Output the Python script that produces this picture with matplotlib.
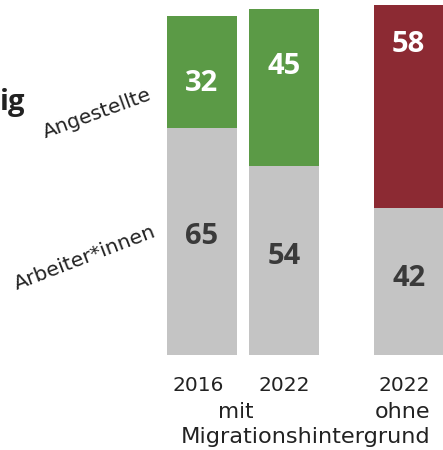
import matplotlib.pyplot as plt
import numpy as np

plt.rcParams['font.family'] = ['Open Sans', 'DejaVu Sans']

# data
years = ["2016", "2022", "2022"]
arbeiter = [65, 54, 42]
angestellte = [32, 45, 58]
top_colors = ["#5b9a46", "#5b9a46", "#8c2a33"]
grey = "#c4c4c4"

# layout (bar centres, label heights)
xpos = np.array([0, 1, 2.52])
w = 0.854
top_lab_y = [77.7, 82.3, 88.6]
bot_lab_frac = 0.52

fig = plt.figure(figsize=(4.43, 4.5), dpi=100)
ax = fig.add_axes([0, 0, 1, 1])
ax.set_xlim(-202 / 82, (443 - 202) / 82)
ax.set_ylim(-95 / 3.5, 355 / 3.5)
ax.axis('off')

def px(x):
    return (x - 202) / 82

def py(y):
    return (355 - y) / 3.5

reg = dict(family='DejaVu Sans', color='#222222')

ax.bar(xpos, arbeiter, width=w, color=grey)
ax.bar(xpos, angestellte, width=w, bottom=arbeiter, color=top_colors)

for i in range(3):
    ax.text(xpos[i], arbeiter[i] * bot_lab_frac, str(arbeiter[i]), ha='center', va='center',
            fontsize=21, fontweight='bold', color='#3a3a3a')
    ax.text(xpos[i], top_lab_y[i], str(angestellte[i]), ha='center', va='center',
            fontsize=21, fontweight='bold', color='white')

ax.text(px(198), py(391), years[0], ha='center', va='baseline', fontsize=14.5, **reg)
ax.text(px(284), py(391), years[1], ha='center', va='baseline', fontsize=14.5, **reg)
ax.text(px(404), py(391), years[2], ha='center', va='baseline', fontsize=14.5, **reg)

ax.text(px(236), py(418), "mit", ha='center', va='baseline', fontsize=15.5, **reg)
ax.text(px(402), py(418), "ohne", ha='center', va='baseline', fontsize=16, **reg)
ax.text(px(430), py(443), "Migrationshintergrund", ha='right', va='baseline', fontsize=16.2, **reg)

ax.text(px(153), py(99), "Angestellte", ha='right', va='baseline', rotation=20,
        rotation_mode='anchor', fontsize=14.5, **reg)
ax.text(px(157), py(236), "Arbeiter*innen", ha='right', va='baseline', rotation=21,
        rotation_mode='anchor', fontsize=14.7, **reg)

ax.text(px(25), py(110), "ig", ha='right', va='baseline', fontsize=21, fontweight='bold', color='#222222')

fig.savefig("out.png", dpi=100)
